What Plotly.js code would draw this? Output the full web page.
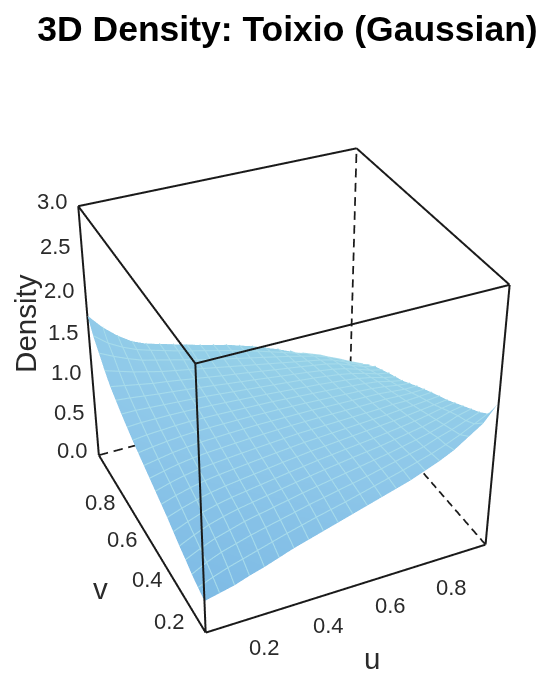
<!DOCTYPE html>
<html><head><meta charset="utf-8">
<script src="https://cdn.plot.ly/plotly-3.0.1.min.js"></script>
<style>html,body{margin:0;padding:0;background:#fff;overflow:hidden;width:550px;height:683px}#g{position:absolute;left:-372px;top:-279px;width:1314px;height:1314px}</style>
</head><body><div id="g"></div>
<script>
const uGrid=[0,.05,.1,.15,.2,.3,.4,.5,.6,.7,.8,.85,.9,.95,1];
const vGrid=[0,.05,.1,.15,.2,.3,.4,.5,.6,.7,.8,.85,.9,.95,1];
const density=[
[.39,.43,.47,.53,.58,.70,.80,.90,1.00,1.10,1.23,1.31,1.42,1.53,1.72],
[.43,.50,.56,.61,.66,.76,.85,.93,1.02,1.11,1.21,1.27,1.34,1.42,1.50],
[.47,.56,.63,.68,.73,.81,.89,.96,1.03,1.11,1.19,1.25,1.30,1.36,1.42],
[.53,.61,.68,.73,.78,.85,.92,.98,1.04,1.10,1.17,1.21,1.26,1.32,1.36],
[.58,.66,.73,.78,.82,.88,.94,.995,1.045,1.09,1.15,1.18,1.22,1.27,1.30],
[.70,.76,.81,.85,.88,.925,.97,1.01,1.04,1.07,1.10,1.12,1.14,1.16,1.18],
[.80,.85,.89,.92,.94,.97,.995,1.02,1.03,1.04,1.05,1.06,1.06,1.07,1.08],
[.90,.93,.96,.98,.995,1.01,1.02,1.02,1.02,1.01,1.005,1.00,.985,.97,.97],
[1.00,1.02,1.03,1.04,1.045,1.04,1.03,1.02,1.00,.98,.955,.94,.92,.88,.85],
[1.12,1.12,1.11,1.10,1.09,1.07,1.04,1.01,.98,.95,.91,.88,.84,.79,.76],
[1.26,1.23,1.20,1.17,1.15,1.10,1.05,1.005,.955,.91,.86,.82,.76,.70,.66],
[1.36,1.31,1.26,1.22,1.18,1.12,1.06,1.00,.94,.88,.82,.78,.71,.64,.59],
[1.48,1.40,1.33,1.27,1.23,1.15,1.07,1.00,.93,.86,.78,.73,.66,.58,.51],
[1.60,1.47,1.38,1.31,1.26,1.17,1.09,1.01,.92,.82,.72,.66,.58,.50,.42],
[1.76,1.58,1.44,1.33,1.26,1.17,1.08,1.00,.90,.78,.64,.56,.47,.39,.31]];
const uTicks=[.2,.4,.6,.8];
const vTicks=[.2,.4,.6,.8];
const zTicks=[0,.5,1,1.5,2,2.5,3];
const uShift=[[0,-33],[6,-30],[12,-27],[19,-26]];
const vShift=[[-12,-29],[-12,-24],[-15,-19],[-17,-16]];
const solidEdges=[
[[0,1],[0,0],[0,0]],[[0,0],[0,1],[0,0]],
[[0,0],[0,0],[0,3]],[[1,1],[0,0],[0,3]],[[0,0],[1,1],[0,3]],
[[0,1],[0,0],[3,3]],[[1,1],[0,1],[3,3]],[[1,0],[1,1],[3,3]],[[0,0],[1,0],[3,3]]];
const dashedEdges=[
[[1,1],[1,1],[0,3]],[[0,1],[1,1],[0,0]],[[1,1],[0,1],[0,0]]];
const ink='#1a1a1a';
const mesh='#a6dbeb';
const solid=e=>({type:'scatter3d',mode:'lines',x:e[0],y:e[1],z:e[2],line:{color:ink,width:4},hoverinfo:'skip',showlegend:false});
function dashed(e){
  const n=18,x=[],y=[],z=[];
  for(let i=0;i<n;i++){
    for(const f of [i/n,(i+.62)/n]){
      x.push(e[0][0]+(e[0][1]-e[0][0])*f);
      y.push(e[1][0]+(e[1][1]-e[1][0])*f);
      z.push(e[2][0]+(e[2][1]-e[2][0])*f);
    }
    x.push(null);y.push(null);z.push(null);
  }
  return {type:'scatter3d',mode:'lines',x,y,z,connectgaps:false,line:{color:ink,width:3.5},hoverinfo:'skip',showlegend:false};
}
// the wire mesh follows the surface table, read through the same grid
function cell(g,t){let i=0;while(i<g.length-2&&t>g[i+1])i++;return [i,(t-g[i])/(g[i+1]-g[i])];}
function onSurface(u,v){
  const [i,a]=cell(uGrid,u),[j,b]=cell(vGrid,v);
  return (density[j][i]*(1-a)+density[j][i+1]*a)*(1-b)+(density[j+1][i]*(1-a)+density[j+1][i+1]*a)*b;
}
function meshTrace(){
  const x=[],y=[],z=[],m=20;
  for(let k=1;k<m;k++){
    for(const dir of [0,1]){
      for(let s=0;s<=m*2;s++){
        const a=k/m,b=s/(m*2),u=dir?a:b,v=dir?b:a;
        x.push(u);y.push(v);z.push(onSurface(u,v)+.006);
      }
      x.push(null);y.push(null);z.push(null);
    }
  }
  return {type:'scatter3d',mode:'lines',x,y,z,connectgaps:false,line:{color:mesh,width:2.2},hoverinfo:'skip',showlegend:false};
}
const shade=vGrid.map(v=>uGrid.map(u=>(u+v)/2));
const traces=[{type:'surface',x:uGrid,y:vGrid,z:density,surfacecolor:shade,showscale:false,hoverinfo:'skip',
  colorscale:[[0,'#7ebbe5'],[.35,'#8ec7e9'],[.7,'#94cfe8'],[1,'#95d2e6']],cmin:0,cmax:1,
  lighting:{ambient:1,diffuse:0,specular:0,roughness:1,fresnel:0},
  contours:{x:{show:false},y:{show:false},z:{show:false}}},
  meshTrace(),
  ...solidEdges.map(solid),...dashedEdges.map(dashed)];
const font={family:'Liberation Sans, Arial, sans-serif',size:22,color:'#2a2a2a'};
const big={...font,size:29.5};
const ann=(x,y,z,text,xs,ys,extra)=>Object.assign({x,y,z,text:String(text),showarrow:false,xshift:xs,yshift:ys,font},extra||{});
const annotations=[
 ...uTicks.map((t,i)=>ann(t,0,0,t,uShift[i][0],uShift[i][1])),
 ...vTicks.map((t,i)=>ann(0,t,0,t,vShift[i][0],vShift[i][1])),
 ...zTicks.map(t=>ann(0,1,t,t.toFixed(1),-26,5)),
 ann(.5,0,0,'u',22,-71,{font:big}),
 ann(0,.5,0,'v',-48,-51,{font:big}),
 ann(0,1,1.9,'Density',-61,-20,{textangle:-90,font:big})];
const axis=r=>({visible:false,range:r,autorange:false,showgrid:false,zeroline:false,showspikes:false,showbackground:false,title:{text:''}});
const layout={width:1314,height:1314,margin:{l:0,r:0,t:0,b:0},paper_bgcolor:'#fff',
 title:{text:'<b>3D Density: Toixio (Gaussian)</b>',font:{family:'Liberation Sans, Arial, sans-serif',size:35.5,color:'#000'},x:.5019,xanchor:'center',y:.7663,yanchor:'middle'},
 scene:{domain:{x:[0,1],y:[0,1]},aspectmode:'manual',aspectratio:{x:1,y:1,z:1},
  xaxis:axis([0,1]),yaxis:axis([0,1]),zaxis:axis([0,3]),
  camera:{projection:{type:'perspective'},up:{x:0,y:0,z:1},center:{x:0,y:0,z:0},eye:{x:-1.785,y:-3.878,z:2.911}},
  annotations}};
Plotly.newPlot('g',traces,layout,{displayModeBar:false,responsive:false});
</script></body></html>
